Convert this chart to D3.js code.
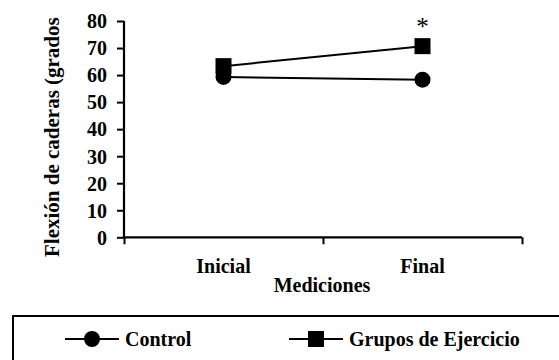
<!DOCTYPE html>
<html>
<head>
<meta charset="utf-8">
<script src="https://cdn.jsdelivr.net/npm/d3@7"></script>
<style>
  body { margin: 0; background: #fff; }
</style>
</head>
<body>
<div id="chart"></div>
<script>
const categories = ["Inicial", "Final"];
const control = [59.3, 58.3];
const ejercicio = [63.3, 70.7];
const yTicks = [0, 10, 20, 30, 40, 50, 60, 70, 80];
const seriesNames = ["Control", "Grupos de Ejercicio"];

const width = 559, height = 360;
const serif = "Liberation Serif";

const svg = d3.select("#chart")
    .append("svg")
    .attr("width", width)
    .attr("height", height);

const x = d3.scaleBand()
    .domain(categories)
    .range([124, 522]);
const xEdges = d3.scaleLinear()
    .domain([0, categories.length])
    .range([124, 522]);
const y = d3.scaleLinear()
    .domain([0, 80])
    .range([237.3, 21]);

// y axis
const yAxis = svg.append("g")
    .attr("transform", "translate(124,0)")
    .call(d3.axisLeft(y).tickValues(yTicks).tickSize(7).tickPadding(10));
yAxis.attr("font-family", serif).attr("font-size", 20).attr("font-weight", "bold");
yAxis.selectAll("text")
    .attr("fill", "#000")
    .attr("dy", "0.34em");

// x axis, ticks on band edges
const xAxis = svg.append("g")
    .attr("transform", "translate(0,237.3)")
    .call(d3.axisBottom(xEdges).tickValues([0, 1, 2]).tickSize(7).tickFormat(""));

svg.selectAll(".domain").attr("stroke", "#000").attr("stroke-width", 2.2);
svg.selectAll(".tick line").attr("stroke", "#000").attr("stroke-width", 2);
yAxis.select(".domain").attr("d", "M0," + y(80) + "V" + (y(0) + 1));
xAxis.select(".domain").attr("d", "M124,0H522");

function label(sel, size) {
    return sel.attr("font-family", serif)
        .attr("font-weight", "bold")
        .attr("font-size", size)
        .attr("fill", "#000");
}

svg.selectAll(".cat")
    .data(categories)
    .enter().append("text")
    .attr("class", "cat")
    .attr("x", d => x(d) + x.bandwidth() / 2)
    .attr("y", 273)
    .attr("text-anchor", "middle")
    .call(label, 20)
    .text(d => d);

svg.append("text")
    .attr("x", 322)
    .attr("y", 292)
    .attr("text-anchor", "middle")
    .call(label, 20)
    .text("Mediciones");

svg.append("text")
    .attr("transform", "translate(59,257) rotate(-90)")
    .attr("text-anchor", "start")
    .call(label, 21)
    .text("Flexión de caderas (grados");

const line = d3.line()
    .x((d, i) => x(categories[i]) + x.bandwidth() / 2)
    .y(d => y(d));

svg.append("path")
    .datum(control)
    .attr("d", line)
    .attr("fill", "none")
    .attr("stroke", "#000")
    .attr("stroke-width", 2);

svg.append("path")
    .datum(ejercicio)
    .attr("d", line)
    .attr("fill", "none")
    .attr("stroke", "#000")
    .attr("stroke-width", 2);

svg.selectAll(".circ")
    .data(control)
    .enter().append("circle")
    .attr("cx", (d, i) => x(categories[i]) + x.bandwidth() / 2)
    .attr("cy", d => y(d))
    .attr("r", 8)
    .attr("fill", "#000");

svg.selectAll(".sq")
    .data(ejercicio)
    .enter().append("rect")
    .attr("x", (d, i) => x(categories[i]) + x.bandwidth() / 2 - 8)
    .attr("y", d => y(d) - 8)
    .attr("width", 16)
    .attr("height", 16)
    .attr("fill", "#000");

// significance mark
svg.append("text")
    .attr("x", x("Final") + x.bandwidth() / 2)
    .attr("y", y(ejercicio[1]) - 11)
    .attr("text-anchor", "middle")
    .call(label, 25)
    .attr("font-weight", "normal")
    .text("*");

// legend
svg.append("rect")
    .attr("x", 13)
    .attr("y", 316)
    .attr("width", 560)
    .attr("height", 60)
    .attr("fill", "none")
    .attr("stroke", "#000")
    .attr("stroke-width", 2);

const legendX = [65, 289];
const legend = svg.selectAll(".leg")
    .data(seriesNames)
    .enter().append("g")
    .attr("transform", (d, i) => "translate(" + legendX[i] + ",339)");

legend.append("line")
    .attr("x1", 0).attr("x2", 54)
    .attr("stroke", "#000")
    .attr("stroke-width", 2);
legend.filter((d, i) => i === 0).append("circle")
    .attr("cx", 27).attr("r", 8).attr("fill", "#000");
legend.filter((d, i) => i === 1).append("rect")
    .attr("x", 19).attr("y", -8).attr("width", 16).attr("height", 16).attr("fill", "#000");
legend.append("text")
    .attr("x", 60)
    .attr("y", 7)
    .call(label, 20)
    .text(d => d);
</script>
</body>
</html>
